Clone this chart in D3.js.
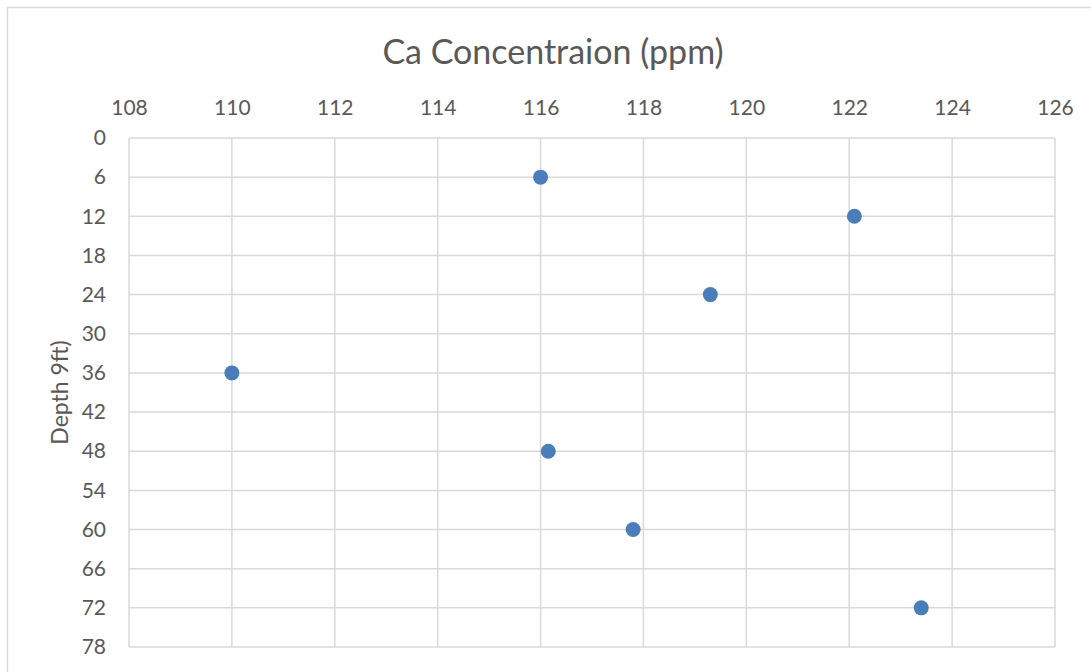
<!DOCTYPE html>
<html>
<head>
<meta charset="utf-8">
<script src="https://cdn.jsdelivr.net/npm/d3@7"></script>
<style>
  body { margin: 0; background: #fff; }
  text { font-family: Lato, "Open Sans", sans-serif; fill: #595959; }
</style>
</head>
<body>
<svg id="chart" width="1091" height="672"></svg>
<script>
// Ca concentration (ppm) vs depth
var depth = [6, 12, 24, 36, 48, 60, 72];
var calcium = [116, 122.1, 119.3, 110, 116.15, 117.8, 123.4];
var xTicks = [108, 110, 112, 114, 116, 118, 120, 122, 124, 126];
var yTicks = [0, 6, 12, 18, 24, 30, 36, 42, 48, 54, 60, 66, 72, 78];

var svg = d3.select("#chart"),
    width = +svg.attr("width"),
    height = +svg.attr("height");

var margin = {top: 138, right: 36, bottom: 25, left: 129};

var x = d3.scaleLinear().domain([108, 126]).range([margin.left, width - margin.right]);
var y = d3.scaleLinear().domain([0, 78]).range([margin.top, height - margin.bottom]);

// outer chart frame (runs off the bottom/right of the picture)
svg.append("rect")
    .attr("x", 7.5).attr("y", 7.5)
    .attr("width", width + 20).attr("height", height + 20)
    .attr("fill", "none")
    .attr("stroke", "#d9d9d9")
    .attr("stroke-width", 1.5);

// grid
svg.append("g")
    .selectAll("line")
    .data(xTicks)
    .enter().append("line")
      .attr("x1", function(d) { return x(d); })
      .attr("x2", function(d) { return x(d); })
      .attr("y1", y(0)).attr("y2", y(78))
      .attr("stroke", "#d9d9d9").attr("stroke-width", 1.5);

svg.append("g")
    .selectAll("line")
    .data(yTicks)
    .enter().append("line")
      .attr("y1", function(d) { return y(d); })
      .attr("y2", function(d) { return y(d); })
      .attr("x1", x(108)).attr("x2", x(126))
      .attr("stroke", "#d9d9d9").attr("stroke-width", 1.5);

// axes (labels only)
var xAxis = svg.append("g")
    .attr("transform", "translate(0," + (margin.top - 23) + ")")
    .call(d3.axisTop(x).tickValues(xTicks).tickSize(0).tickPadding(0));
xAxis.select(".domain").remove();
xAxis.selectAll("text").style("font-size", "21px").attr("fill", "#595959");

var yAxis = svg.append("g")
    .attr("transform", "translate(" + (margin.left - 23) + ",0)")
    .call(d3.axisLeft(y).tickValues(yTicks).tickSize(0).tickPadding(0));
yAxis.select(".domain").remove();
yAxis.selectAll("text").style("font-size", "21px").attr("fill", "#595959");

// points
svg.append("g")
    .selectAll("circle")
    .data(depth)
    .enter().append("circle")
      .attr("cx", function(d, i) { return x(calcium[i]); })
      .attr("cy", function(d) { return y(d); })
      .attr("r", 7.5)
      .attr("fill", "#4a7ebb");

// title
svg.append("text")
    .attr("x", 553).attr("y", 64)
    .attr("text-anchor", "middle")
    .style("font-size", "34px")
    .text("Ca Concentraion (ppm)");

svg.append("text")
    .attr("transform", "translate(68," + ((y(0) + y(78)) / 2) + ") rotate(-90)")
    .attr("text-anchor", "middle")
    .style("font-size", "23px")
    .text("Depth 9ft)");
</script>
</body>
</html>
